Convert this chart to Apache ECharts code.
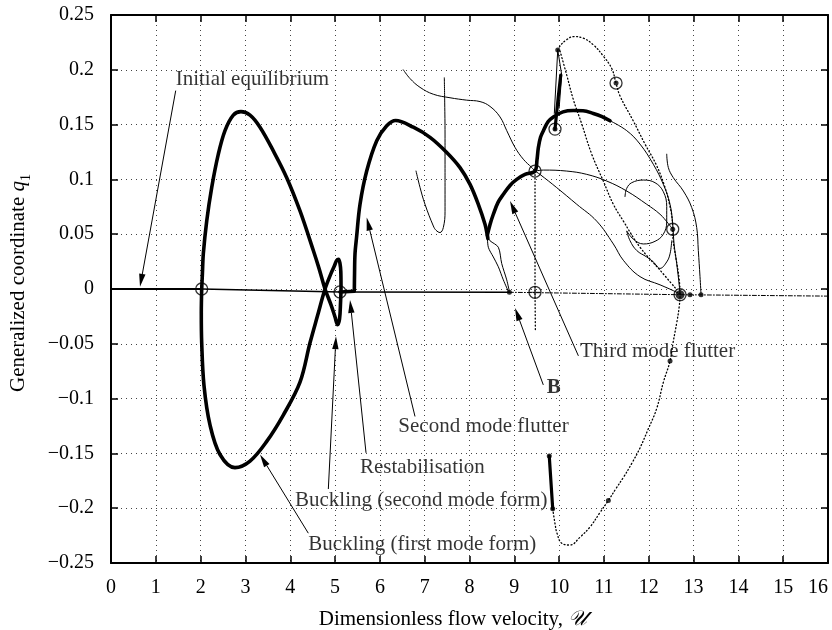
<!DOCTYPE html>
<html><head><meta charset="utf-8">
<script src="https://cdn.jsdelivr.net/npm/echarts@6/dist/echarts.min.js"></script>
<style>html,body{margin:0;padding:0;background:#fff}#c{width:832px;height:630px}</style>
</head><body><div id="c"></div>
<script>
// ---------- data (x = dimensionless flow velocity, y = generalized coordinate q1) ----------
const equilibriumStart = [[0,0],[2.024,0]];
const equilibriumMid = [[2.024,0],[5.11,-0.0027],[8.89,-0.003]];
const equilibriumUnstable = [[8.89,-0.003],[12.698,-0.0052],[16,-0.0065]];
const restabilisation = [[5.11,-0.0027],[5.43,-0.002]];

const bucklingLoop = [[2.024,0],[2.04,0.0143],[2.06,0.0321],[2.136,0.0621],[2.247,0.0925],[2.395,0.123],[2.544,0.1445],[2.729,0.1586],[2.901,0.1618],[3.102,0.1586],[3.325,0.1476],[3.622,0.126],[3.921,0.1016],[4.218,0.0712],[4.515,0.0351],[4.642,0.0188],[4.776,0],[4.91,-0.0145],[4.999,-0.0255],[5.055,-0.0325],[5.10,-0.0273],[5.122,-0.0127],[5.133,0.0009],[5.128,0.0161],[5.11,0.0232],[5.077,0.0272],[5.032,0.0259],[4.988,0.0214],[4.91,0.0143],[4.776,0],[4.608,-0.0245],[4.441,-0.0491],[4.218,-0.085],[3.845,-0.115],[3.475,-0.139],[3.102,-0.157],[2.767,-0.163],[2.432,-0.151],[2.209,-0.124],[2.075,-0.088],[2.024,-0.049],[2.015,-0.0218],[2.024,0]];

const secondModeArch = [[5.43,-0.001],[5.435,0.0143],[5.445,0.0321],[5.48,0.0473],[5.557,0.0773],[5.706,0.1076],[5.93,0.1353],[6.153,0.149],[6.353,0.1538],[6.746,0.1476],[7.119,0.1384],[7.492,0.1246],[7.788,0.1108],[8.012,0.0955],[8.197,0.0773],[8.346,0.0591],[8.398,0.0491],[8.41,0.046]];

const thirdModeArch = [[8.398,0.0491],[8.458,0.0589],[8.532,0.0682],[8.637,0.079],[8.755,0.0864],[8.904,0.0945],[9.054,0.1],[9.239,0.1045],[9.462,0.1076],[9.507,0.1181],[9.536,0.1289],[9.585,0.1384],[9.647,0.1442],[9.752,0.1526],[9.871,0.157],[10.087,0.1616],[10.317,0.1628],[10.533,0.1626],[10.763,0.1602],[10.958,0.1573],[11.136,0.1535]];

const spikeThick = [[9.908,0.1459],[9.98,0.175],[10.036,0.1952]];
const spikeThin = [[9.893,0.1602],[9.969,0.2181],[10.058,0.1952],[10.0,0.165]];
const lowerThick = [[9.78,-0.1524],[9.857,-0.2005]];

const thinA = [[6.523,0.2],[6.673,0.192],[6.896,0.184],[7.193,0.1777],[7.565,0.1745],[7.938,0.1723],[8.235,0.171],[8.458,0.1666],[8.681,0.157],[8.831,0.1445],[9.016,0.1292],[9.201,0.1184],[9.389,0.1108],[9.462,0.1076]];
const thinB = [[7.438,0.1927],[7.447,0.1698],[7.454,0.1414],[7.454,0.1138],[7.454,0.0864],[7.454,0.0709],[7.416,0.0561],[7.342,0.0515],[7.253,0.0536],[7.193,0.0575],[7.007,0.0773],[6.896,0.0927],[6.807,0.1076]];
const thinC = [[9.462,0.1076],[9.647,0.1085],[10.17,0.1076],[10.616,0.1046],[11.062,0.0985],[11.508,0.0894],[11.955,0.0773],[12.252,0.0682],[12.43,0.06],[12.535,0.0545]];
const thinD = [[9.462,0.1076],[9.574,0.1045],[9.946,0.0925],[10.393,0.0773],[10.839,0.0619],[11.21,0.0411],[11.433,0.0262],[11.805,0.0113],[12.252,0.0038],[12.654,-0.0036],[12.698,-0.0052]];
const thinE = [[11.136,0.1535],[11.508,0.1445],[11.805,0.1322],[12.102,0.1138],[12.325,0.0955],[12.475,0.0773],[12.535,0.059],[12.565,0.0411],[12.624,0.0232],[12.683,0.0024],[12.698,-0.0052]];
const thinLoop = [[11.47,0.0843],[11.508,0.0918],[11.62,0.097],[11.879,0.0994],[12.14,0.097],[12.325,0.0888],[12.401,0.0752],[12.401,0.0613],[12.325,0.05],[12.14,0.0435],[11.879,0.0411],[11.656,0.0455],[11.508,0.053],[11.583,0.044],[11.732,0.0351],[11.955,0.0292],[12.102,0.0247],[12.252,0.0188],[12.401,0.0247],[12.475,0.0321],[12.513,0.044]];
const thinF = [[12.401,0.123],[12.437,0.1108],[12.548,0.1016],[12.772,0.0894],[12.959,0.0743],[13.07,0.0561],[13.106,0.0351],[13.144,0.0113],[13.167,-0.0052]];
const thinG1 = [[8.398,0.0491],[8.42,0.0381],[8.532,0.0292],[8.643,0.0203],[8.755,0.0083],[8.866,-0.0021]];
const thinG2 = [[8.41,0.047],[8.458,0.044],[8.643,0.0381],[8.719,0.0232],[8.831,0.0083],[8.889,-0.0021]];

const dottedA = [[9.969,0.218],[10.04,0.2228],[10.17,0.2275],[10.317,0.2303],[10.54,0.2289],[10.763,0.2228],[10.986,0.2125],[11.174,0.2012],[11.27,0.1879],[11.359,0.1761],[11.649,0.1538],[11.917,0.1322],[12.162,0.1138],[12.34,0.0955],[12.464,0.0773],[12.53,0.0607],[12.542,0.0455],[12.609,0.0277],[12.676,0.0098],[12.698,-0.0052],[12.676,-0.0173],[12.624,-0.0309],[12.542,-0.0491],[12.475,-0.0657],[12.325,-0.0852],[12.178,-0.109],[11.984,-0.1282],[11.805,-0.145],[11.627,-0.1587],[11.433,-0.172],[11.27,-0.182],[11.098,-0.193],[10.913,-0.2039],[10.69,-0.2171],[10.467,-0.2264],[10.243,-0.2336],[10.058,-0.232],[9.953,-0.2228],[9.908,-0.214],[9.857,-0.2005]];
const dottedB = [[10.02,0.2172],[10.17,0.1952],[10.317,0.1729],[10.504,0.1507],[10.728,0.123],[10.986,0.0985],[11.21,0.0773],[11.433,0.062],[11.805,0.0381],[12.252,0.0172],[12.624,-0.0006]];
const dottedC = [[9.462,0.1076],[9.462,-0.003],[9.47,-0.038]];

const openCircles = [[2.024,0],[5.11,-0.0027],[9.462,0.1076],[9.908,0.1459],[11.27,0.1879],[12.535,0.0545],[12.698,-0.0052],[9.462,-0.003]];
const crossCircle = [[9.462,-0.003]];
const smallDots = [[8.89,-0.003],[9.969,0.218],[12.92,-0.0052],[13.167,-0.0052],[9.78,-0.1524],[9.857,-0.2005],[12.475,-0.0657],[11.098,-0.193],[11.27,0.1879],[12.535,0.0545],[9.908,0.1459]];
const bigDots = [[12.698,-0.0052]];

const annotationTexts = ['Initial equilibrium','Buckling (first mode form)','Buckling (second mode form)','Restabilisation','Second mode flutter','Third mode flutter','B'];
const annotationAnchors = [[1.444,0.1914],[4.403,-0.2335],[4.106,-0.193],[5.557,-0.163],[6.412,-0.1255],[10.466,-0.0566],[9.723,-0.0895]];
const arrowStarts = [[1.444,0.181],[4.403,-0.2228],[4.85,-0.1825],[5.691,-0.1495],[6.784,-0.1163],[10.43,-0.061],[9.647,-0.0875]];
const arrowEnds = [[0.647,0.002],[3.325,-0.151],[5.021,-0.043],[5.334,-0.01],[5.706,0.0652],[8.904,0.0803],[9.016,-0.0173]];

// ---------- chart ----------
const FONT = '"Liberation Serif","Times New Roman",serif';
const chart = echarts.init(document.getElementById('c'), null, {renderer:'canvas'});

function curve(data, width, type, smooth, z) {
  return {type:'line', data, symbol:'none', smooth: smooth, silent:true, z: z || 2,
    lineStyle:{color:'#000', width, type: type || 'solid', cap:'round', join:'round'}};
}
const yFmt = v => String(Math.round(v*100)/100).replace('-', '\u2212');

const axisCommon = {
  axisLine:{show:true, onZero:false, lineStyle:{color:'#000', width:2}},
  axisTick:{show:true, inside:true, length:7, lineStyle:{color:'#000', width:1.5}}
};

chart.setOption({
  animation:false,
  backgroundColor:'#fff',
  grid:{left:111, right:4, top:15, bottom:67, containLabel:false, outerBoundsMode:'none'},
  xAxis:[
    Object.assign({type:'value', min:0, max:16, interval:1, position:'bottom',
      axisLabel:{fontFamily:FONT, fontSize:20, color:'#000', margin:15, alignMaxLabel:'right'},
      splitLine:{show:true, lineStyle:{color:'#444', width:1, type:[1,4]}},
      name:'Dimensionless flow velocity, {u|\uD835\uDCB0}', nameLocation:'middle', nameGap:46,
      nameTextStyle:{fontFamily:FONT, fontSize:21, color:'#000', padding:[0,33,0,0],
        rich:{u:{fontFamily:FONT, fontSize:21, fontStyle:'italic', color:'#000'}}}
    }, axisCommon),
    Object.assign({type:'value', min:0, max:16, interval:1, position:'top',
      axisLabel:{show:false}, splitLine:{show:false}}, axisCommon)
  ],
  yAxis:[
    Object.assign({type:'value', min:-0.25, max:0.25, interval:0.05, position:'left',
      axisLabel:{fontFamily:FONT, fontSize:20, color:'#000', margin:17, formatter:yFmt},
      splitLine:{show:true, lineStyle:{color:'#444', width:1, type:[1,4]}},
      name:'{t|Generalized coordinate }{q|q}{s|1}', nameLocation:'middle', nameGap:78,
      nameTextStyle:{fontFamily:FONT, fontSize:21, color:'#000', padding:[0,0,0,12],
        rich:{t:{fontFamily:FONT, fontSize:21, lineHeight:30, color:'#000'},
              q:{fontFamily:FONT, fontSize:21, lineHeight:30, fontStyle:'italic', color:'#000'},
              s:{fontFamily:FONT, fontSize:14, lineHeight:14, verticalAlign:'bottom', color:'#000'}}}
    }, axisCommon),
    Object.assign({type:'value', min:-0.25, max:0.25, interval:0.05, position:'right',
      axisLabel:{show:false}, splitLine:{show:false}}, axisCommon)
  ],
  series:[
    curve(equilibriumStart, 2.2, 'solid', false, 3),
    curve(equilibriumMid, 1.4, 'solid', false, 3),
    curve(equilibriumUnstable, 1, [4,2,1,2], false, 3),
    curve(thinA, 1, 'solid', 0.4),
    curve(thinB, 1, 'solid', 0.4),
    curve(thinC, 1, 'solid', 0.4),
    curve(thinD, 1, 'solid', 0.4),
    curve(thinE, 1, 'solid', 0.4),
    curve(thinLoop, 1, 'solid', 0.4),
    curve(thinF, 1, 'solid', 0.4),
    curve(thinG1, 1, 'solid', 0.3),
    curve(thinG2, 1, 'solid', 0.3),
    curve(spikeThin, 1, 'solid', false),
    curve(dottedA, 1.3, [1,2.5], 0.4),
    curve(dottedB, 1.3, [1,2.5], 0.4),
    curve(dottedC, 1.3, [1,2.5], false),
    curve(bucklingLoop, 3.6, 'solid', 0.35, 5),
    curve(restabilisation, 3.6, 'solid', false, 5),
    curve(secondModeArch, 3.6, 'solid', 0.35, 5),
    curve(thirdModeArch, 3.6, 'solid', 0.35, 5),
    curve(spikeThick, 3.2, 'solid', false, 5),
    curve(lowerThick, 3.2, 'solid', false, 5),
    {type:'scatter', data:openCircles, symbol:'circle', symbolSize:12, silent:true, z:8,
      itemStyle:{color:'rgba(0,0,0,0)', borderColor:'#000', borderWidth:1.3}},
    {type:'scatter', data:crossCircle, symbol:'path://M0,-1L0,1M-1,0L1,0', symbolSize:11, silent:true, z:8,
      itemStyle:{color:'rgba(0,0,0,0)', borderColor:'#000', borderWidth:1}},
    {type:'scatter', data:smallDots, symbol:'circle', symbolSize:5, silent:true, z:9, itemStyle:{color:'#000'}},
    {type:'scatter', data:bigDots, symbol:'circle', symbolSize:9, silent:true, z:9, itemStyle:{color:'#000'}},
    {type:'custom', silent:true, z:7, data: arrowStarts.map((s,i) => [s[0], s[1], arrowEnds[i][0], arrowEnds[i][1]]),
      encode:{x:[0,2], y:[1,3]},
      renderItem:(params, api) => {
        const p0 = api.coord([api.value(0), api.value(1)]);
        const p1 = api.coord([api.value(2), api.value(3)]);
        const dx = p1[0]-p0[0], dy = p1[1]-p0[1];
        const len = Math.hypot(dx, dy) || 1;
        const ux = dx/len, uy = dy/len, L = 13, W = 3.2;
        const bx = p1[0]-ux*L, by = p1[1]-uy*L;
        return {type:'group', children:[
          {type:'line', shape:{x1:p0[0], y1:p0[1], x2:bx, y2:by}, style:{stroke:'#000', lineWidth:1}},
          {type:'polygon', shape:{points:[[p1[0],p1[1]],[bx-uy*W, by+ux*W],[bx+uy*W, by-ux*W]]}, style:{fill:'#000'}}
        ]};
      }},
    {type:'scatter', silent:true, z:10, symbolSize:0,
      data: annotationAnchors.map((a,i) => ({value:a, name:annotationTexts[i],
        label: annotationTexts[i] === 'B' ? {fontWeight:'bold'} : undefined})),
      label:{show:true, position:'right', distance:0, formatter:p => p.name,
        fontFamily:FONT, fontSize:21, color:'#000', fontWeight:'normal'}}
  ]
});
</script></body></html>
